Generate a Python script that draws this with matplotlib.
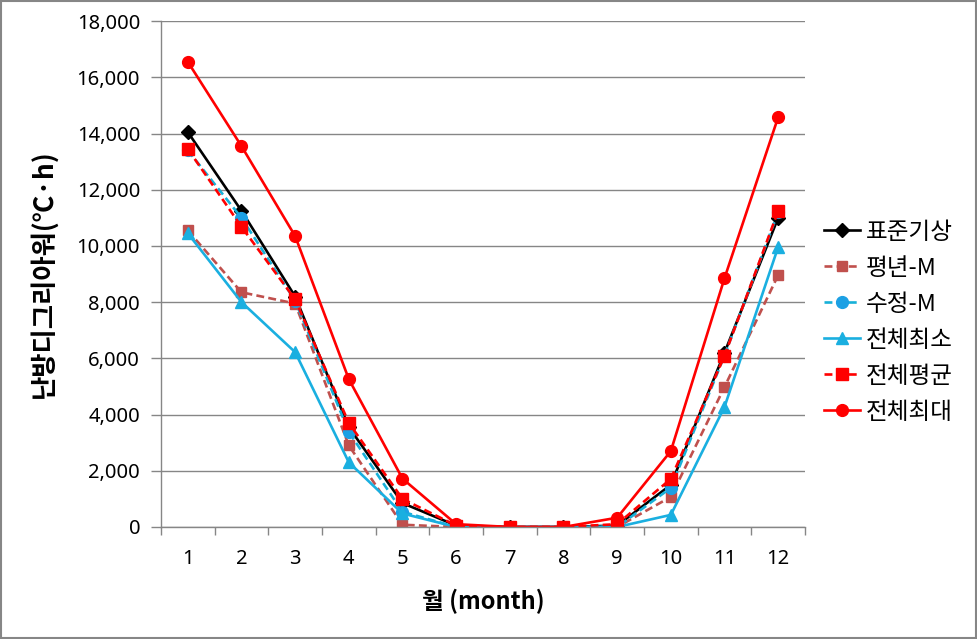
import matplotlib
matplotlib.use('Agg')
import matplotlib.pyplot as plt
from matplotlib.patches import Rectangle
from matplotlib.ticker import FuncFormatter

plt.rcParams['font.family'] = ['Noto Sans CJK KR', 'DejaVu Sans']

months = [1, 2, 3, 4, 5, 6, 7, 8, 9, 10, 11, 12]

std_weather = [14050, 11250, 8200, 3550, 850, 50, 0, 0, 50, 1500, 6200, 11000]
normal_m = [10550, 8350, 7950, 2900, 80, 0, 0, 0, 0, 1070, 4980, 8960]
revised_m = [13400, 11000, 8050, 3380, 540, 0, 0, 0, 0, 1390, 6100, 11200]
total_min = [10450, 8000, 6220, 2300, 480, 0, 0, 0, 0, 430, 4270, 9960]
total_mean = [13450, 10680, 8100, 3700, 1000, 50, 0, 0, 100, 1710, 6090, 11240]
total_max = [16550, 13550, 10350, 5260, 1720, 100, 0, 0, 330, 2700, 8850, 14580]

series = [
    ('표준기상', std_weather, 'black', 'black', 'D', '-', 7.5),
    ('평년-M', normal_m, '#C0504D', '#C0504D', 's', '--', 7.5),
    ('수정-M', revised_m, '#17B0D8', '#1CA0E4', 'o', '--', 8.5),
    ('전체최소', total_min, '#1AAFE0', '#1AAFE0', '^', '-', 9),
    ('전체평균', total_mean, '#FF0000', '#FF0000', 's', '--', 8.5),
    ('전체최대', total_max, '#FF0000', '#FF0000', 'o', '-', 8.5),
]

fig = plt.figure(figsize=(9.78, 6.39), dpi=100)
ax = fig.add_axes([0.1646, 0.1753, 0.6585, 0.7917])

for name, vals, lc, mc, mk, ls, ms in series:
    line, = ax.plot(months, vals, color=lc, linestyle=ls, linewidth=1.9,
                    marker=mk, markersize=ms, markerfacecolor=mc,
                    markeredgecolor=mc, label=name)
    if ls == '--':
        line.set_dashes((3.0, 1.6))

ax.set_xlim(0.5, 12.5)
ax.set_ylim(0, 18000)
ax.set_yticks(range(0, 18001, 2000))
ax.yaxis.set_major_formatter(FuncFormatter(lambda v, p: f'{int(v):,}'))
ax.set_xticks(months)
ax.set_xticks([m + 0.5 for m in range(0, 13)], minor=True)
ax.tick_params(axis='x', which='major', length=0, pad=16)
ax.tick_params(axis='x', which='minor', length=6, color='#868686', width=1)
ax.tick_params(axis='y', length=7, color='#868686', width=1, pad=8)
for lab in ax.get_xticklabels() + ax.get_yticklabels():
    lab.set_fontfamily(['Noto Sans', 'DejaVu Sans'])
    lab.set_fontsize(14.5)

ax.grid(axis='y', color='#868686', linewidth=1)
ax.set_axisbelow(True)
for s in ['top', 'right']:
    ax.spines[s].set_visible(False)
for s in ['left', 'bottom']:
    ax.spines[s].set_color('#868686')
    ax.spines[s].set_linewidth(1)

ax.set_xlabel('월 (month)', fontsize=17, fontweight='bold', labelpad=14)
ax.set_ylabel('난방디그리아워(℃·h)', fontsize=19, fontweight='bold', labelpad=14)

ax.legend(loc='center left', bbox_to_anchor=(1.03, 0.405), frameon=False,
          fontsize=17, handlelength=1.5, handletextpad=0.25, labelspacing=0.55,
          borderaxespad=0.0, borderpad=0.0)

fig.patches.append(Rectangle((0.001, 0.001), 0.997, 0.997, transform=fig.transFigure,
                             fill=False, edgecolor='#868686', linewidth=1.5))

fig.savefig('out.png', dpi=100)
